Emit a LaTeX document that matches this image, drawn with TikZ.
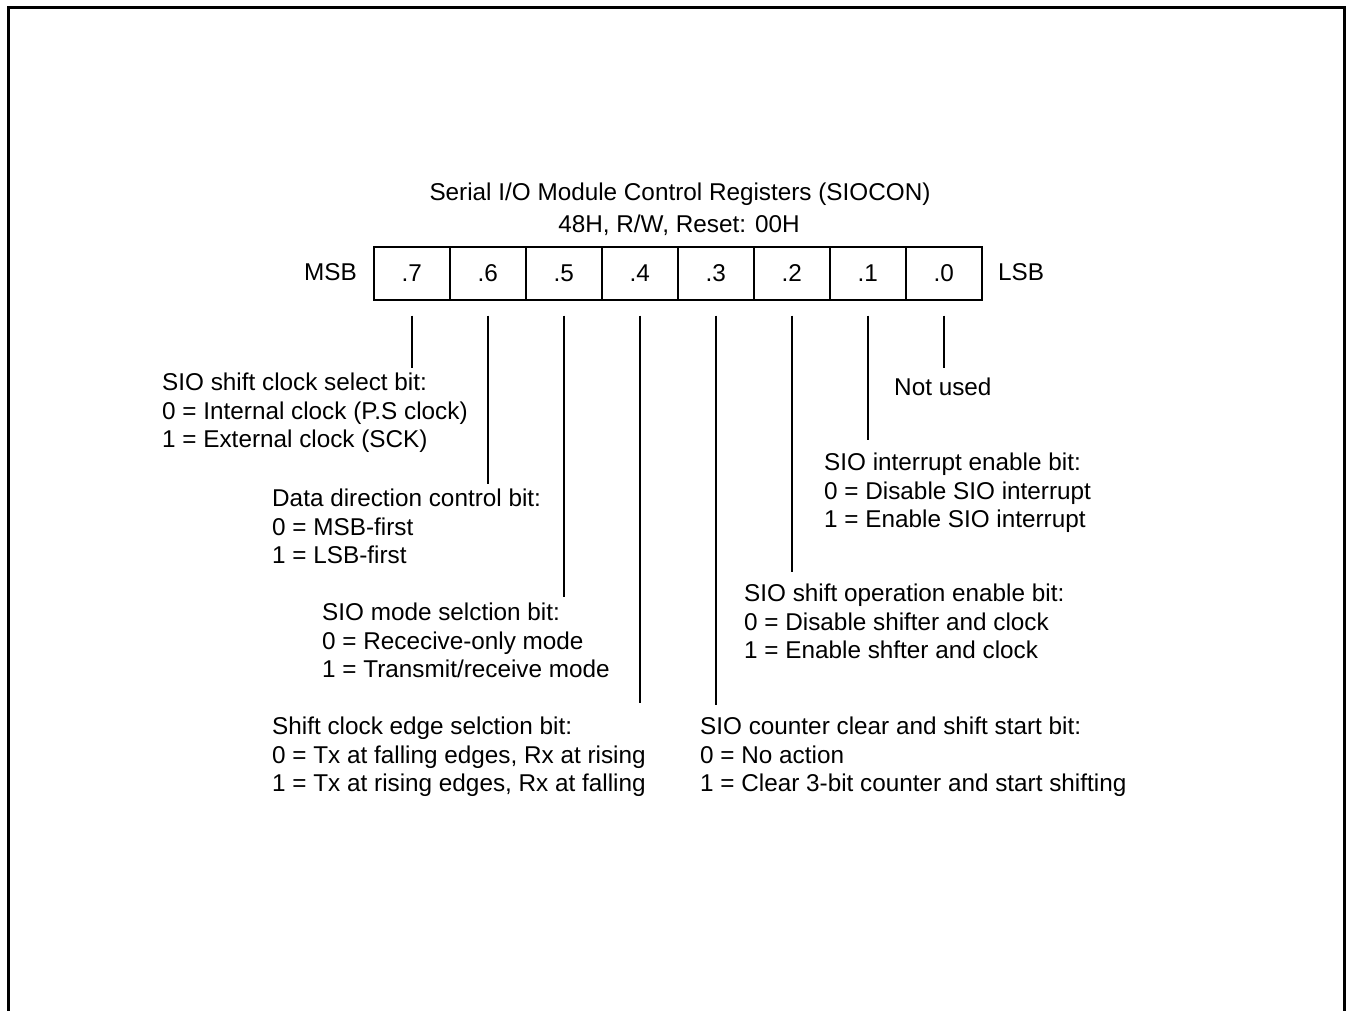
\documentclass[tikz,border=0pt]{standalone}
\usepackage{fontspec}
\setmainfont{Liberation Sans}
\begin{document}
\begin{tikzpicture}[x=1pt,y=-1pt,
  fnt/.style={font=\fontsize{24.3}{28.5}\selectfont},
  txt/.style={fnt, inner sep=0pt, align=left, anchor=north west},
  lbl/.style={fnt, inner sep=0pt, anchor=base},
  cell/.style={fnt, draw, line width=1.5pt, minimum width=76pt, minimum height=53pt, inner sep=0pt, anchor=north west},
  lead/.style={line width=1.5pt},
  frame/.style={line width=3pt}]
\useasboundingbox (0,0) rectangle (1349,1010);
\draw[frame] (8.5,1015) -- (8.5,7.5) -- (1344,7.5) -- (1344,1015);

% title
\node[lbl] (title) at (680,200.7) {Serial I/O Module Control Registers (SIOCON)};
\node[lbl] (addr) at (679,232.7) {48H, R/W, Reset: 00H};

% register cells
\foreach \i/\b in {0/7,1/6,2/5,3/4,4/3,5/2,6/1,7/0}
  \node[cell] (c\b) at (373+76*\i,246) {.\b};

\node[lbl, anchor=base east] (msb) at (357,280.7) {MSB};
\node[lbl, anchor=base west] (lsb) at (998,280.7) {LSB};

% leaders
\foreach \b/\e in {7/368,6/484,5/597,4/703,3/705,2/572,1/440,0/368}
  \draw[lead] ([yshift=-15pt]c\b.south) -- (c\b.south |- 0,\e);

% descriptions
\node[txt] (d7) at (162,370.75) {\strut SIO shift clock select bit:\\0 = Internal clock (P.S clock)\\1 = External clock (SCK)};
\node[txt] (d6) at (272,486.75) {\strut Data direction control bit:\\0 = MSB-first\\1 = LSB-first};
\node[txt] (d5) at (322,600.75) {\strut SIO mode selction bit:\\0 = Rececive-only mode\\1 = Transmit/receive mode};
\node[txt] (d4) at (272,714.75) {\strut Shift clock edge selction bit:\\0 = Tx at falling edges, Rx at rising\\1 = Tx at rising edges, Rx at falling};
\node[txt] (d3) at (700,714.75) {\strut SIO counter clear and shift start bit:\\0 = No action\\1 = Clear 3-bit counter and start shifting};
\node[txt] (d2) at (744,581.75) {\strut SIO shift operation enable bit:\\0 = Disable shifter and clock\\1 = Enable shfter and clock};
\node[txt] (d1) at (824,450.75) {\strut SIO interrupt enable bit:\\0 = Disable SIO interrupt\\1 = Enable SIO interrupt};
\node[lbl, anchor=base west] (d0) at (894,395.7) {Not used};
\end{tikzpicture}
\end{document}
